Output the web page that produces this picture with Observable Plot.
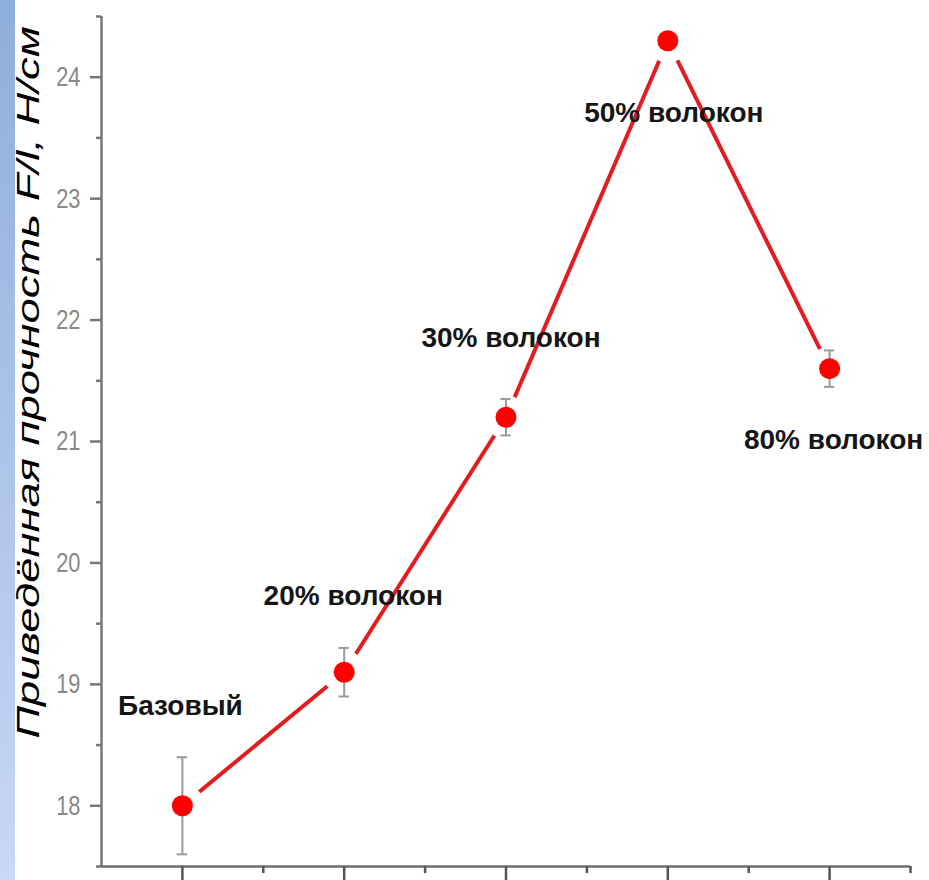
<!DOCTYPE html>
<html>
<head>
<meta charset="utf-8">
<script src="https://cdn.jsdelivr.net/npm/d3@7"></script>
<script src="https://cdn.jsdelivr.net/npm/@observablehq/plot@0.6"></script>
<style>
  html, body { margin: 0; padding: 0; background: #fff; }
  #wrap { position: relative; width: 929px; height: 880px; overflow: hidden; }
  #strip { position: absolute; left: 0; top: 0; width: 15px; height: 880px;
           background: linear-gradient(to bottom, #8eaedb, #c8d8f6); z-index: 2; }
</style>
</head>
<body>
<div id="wrap"><div id="strip"></div></div>
<script>
// ---- data ----
const labels = ["Базовый", "20% волокон", "30% волокон", "50% волокон", "80% волокон"];
const positions = [1, 2, 3, 4, 5];
const strength = [18.0, 19.1, 21.2, 24.3, 21.6];
const errors = [0.4, 0.2, 0.15, 0.05, 0.15];
const yMajorTicks = [18, 19, 20, 21, 22, 23, 24];
const yMinorTicks = [17.5, 18.5, 19.5, 20.5, 21.5, 22.5, 23.5, 24.5];
const xMajorTicks = [1, 2, 3, 4, 5];
const xMinorTicks = [1.5, 2.5, 3.5, 4.5, 5.5];
const yTitle = "Приведённая прочность F/l, Н/см";

const data = labels.map((label, i) => ({
  label, x: positions[i], y: strength[i], err: errors[i]
}));

// label offsets (pixels) — styling only
const labelOffsets = [[-2, -100], [9, -76], [5, -79], [6, 72], [4, 71]];
const capHalf = 0.032;

const font = "'Liberation Sans', Arial, sans-serif";

const plot = Plot.plot({
  width: 929,
  height: 880,
  marginLeft: 101,
  marginRight: 19,
  marginTop: 16,
  marginBottom: 14,
  style: { fontFamily: font, background: "transparent", overflow: "visible" },
  x: { domain: [0.5, 5.5], axis: null },
  y: { domain: [17.5, 24.5], axis: null },
  marks: [
    // axis lines
    Plot.ruleY([17.5], { stroke: "#6e6e6e", strokeWidth: 2.5 }),
    Plot.ruleX([0.5], { stroke: "#777", strokeWidth: 2.5 }),
    // y ticks
    Plot.axisY({ ticks: yMajorTicks, tickSize: 11, tickPadding: 10, fontSize: 28,
                 tickFormat: d => String(d),
                 stroke: "#777", fill: "#888", strokeWidth: 2.5, label: null }),
    Plot.axisY({ ticks: yMinorTicks, tickSize: 5, stroke: "#777", strokeWidth: 2.5,
                 tickFormat: () => "", label: null }),
    // x ticks
    Plot.axisX({ ticks: xMajorTicks, tickSize: 18, stroke: "#555", strokeWidth: 2.5,
                 tickFormat: () => "", label: null }),
    Plot.axisX({ ticks: xMinorTicks, tickSize: 7, stroke: "#555", strokeWidth: 2.5,
                 tickFormat: () => "", label: null }),
    // connecting line
    Plot.line(data, { x: "x", y: "y", stroke: "#e41c1f", strokeWidth: 4 }),
    // white halos creating gaps
    Plot.dot(data, { x: "x", y: "y", r: 22, fill: "white", stroke: "none" }),
    // error bars
    Plot.ruleX(data, { x: "x", y1: d => d.y - d.err, y2: d => d.y + d.err,
                       stroke: "#9a9a9a", strokeWidth: 2 }),
    Plot.ruleY(data, { y: d => d.y + d.err, x1: d => d.x - capHalf, x2: d => d.x + capHalf,
                       stroke: "#9a9a9a", strokeWidth: 2 }),
    Plot.ruleY(data, { y: d => d.y - d.err, x1: d => d.x - capHalf, x2: d => d.x + capHalf,
                       stroke: "#9a9a9a", strokeWidth: 2 }),
    // points
    Plot.dot(data, { x: "x", y: "y", r: 10.5, fill: "#ff0000", stroke: "none" }),
    // annotations
    ...data.map((d, i) => Plot.text([d], {
      x: "x", y: "y", text: "label",
      dx: labelOffsets[i][0], dy: labelOffsets[i][1],
      fontSize: 28, fontWeight: "bold", fill: "#151515"
    })),
    // y title
    Plot.text([yTitle], {
      frameAnchor: "left", textAnchor: "middle", rotate: -90, dx: -73, dy: -59,
      fontSize: 32, fontStyle: "italic", fontWeight: 500, fill: "#000"
    })
  ]
});

// compress tick labels horizontally, stretch title along its length
d3.select(plot).selectAll('g[aria-label="y-axis tick label"] text').each(function () {
  const t = this.getAttribute("transform") || "";
  this.setAttribute("transform", t + " scale(0.78,1)");
});
d3.select(plot).selectAll('g[aria-label="text"] text').each(function () {
  if (this.textContent === yTitle) {
    const t = this.getAttribute("transform") || "";
    this.setAttribute("transform", t + " scale(1.42,1)");
  }
});

document.getElementById("wrap").appendChild(plot);
</script>
</body>
</html>
